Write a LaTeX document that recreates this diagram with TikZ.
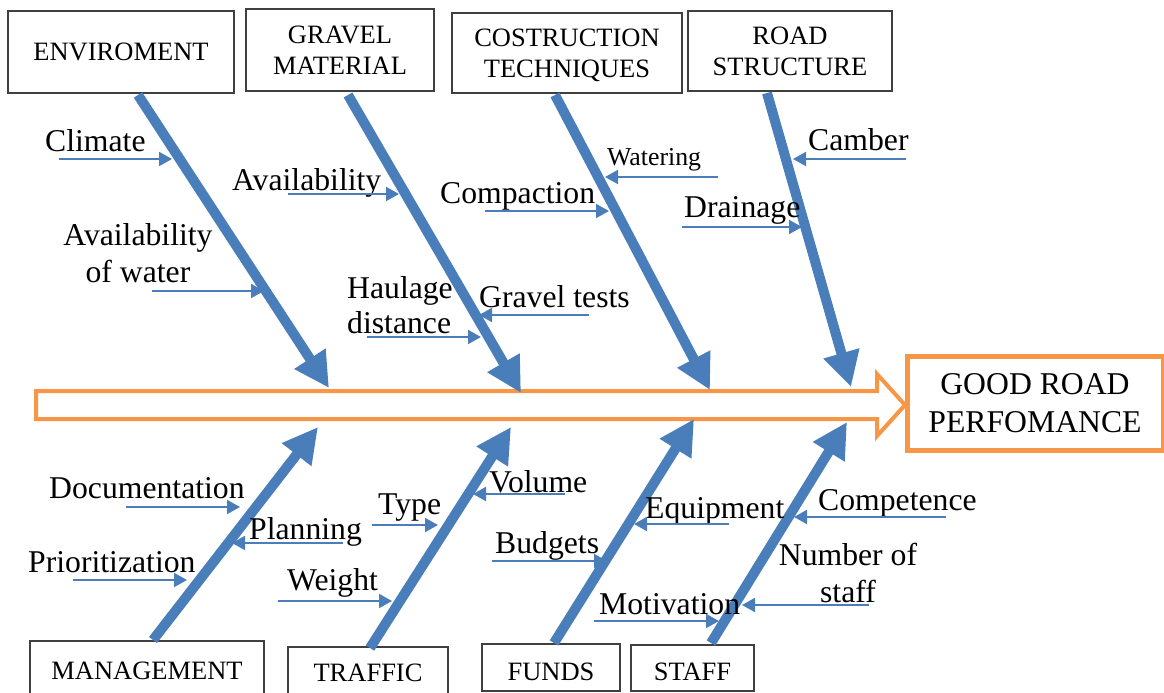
\documentclass[tikz,border=0pt]{standalone}
\usepackage{fontspec}
\setmainfont{Liberation Serif}
\usetikzlibrary{arrows.meta,calc,positioning}
\definecolor{bonecol}{HTML}{4A7EBB}
\definecolor{spinecol}{HTML}{F79646}

\begin{document}
\begin{tikzpicture}[x=1pt,y=-1pt,line join=miter,
  catbox/.style={draw=black!75,line width=1.5pt,inner sep=0pt,align=center,text depth=0pt,font=\fontsize{26.5}{31}\selectfont},
  bone/.style={bonecol,line width=10pt,-{Triangle[length=35pt,width=35pt]}},
  twig/.style={bonecol,line width=2pt,-{Triangle[length=13pt,width=14pt]}},
  lab/.style={inner sep=0pt,anchor=base west,font=\fontsize{31.7}{37}\selectfont}]
\useasboundingbox (0,0) rectangle (1164,693);
% spine and effect
\draw[spinecol,line width=4pt](36,391)--(877,391)--(877,374)--(905,405)--(877,436)--(877,419)--(36,419)--cycle;
\node[draw=spinecol,line width=5pt,minimum width=256pt,minimum height=94pt,inner sep=0pt,align=center,font=\fontsize{31.7}{38}\selectfont] (goal) at (1035,403) {GOOD ROAD\\PERFOMANCE};
% categories
\node[catbox,minimum width=226pt,minimum height=82pt] (env) at (121,52) {ENVIROMENT};
\node[catbox,minimum width=188pt,minimum height=82pt] (grav) at (340,50) {GRAVEL\\MATERIAL};
\node[catbox,minimum width=230pt,minimum height=80pt] (cons) at (567,53) {COSTRUCTION\\TECHNIQUES};
\node[catbox,minimum width=204pt,minimum height=80pt] (road) at (790,51) {ROAD\\STRUCTURE};
\node[catbox,minimum width=234pt,minimum height=59pt] (mgmt) at (147,670.5) {MANAGEMENT};
\node[catbox,minimum width=160pt,minimum height=52pt] (traf) at (368,673) {TRAFFIC};
\node[catbox,minimum width=138pt,minimum height=47pt,text height=26.5pt] (fund) at (551,667.5) {FUNDS};
\node[catbox,minimum width=123pt,minimum height=46pt,text height=24pt] (staf) at (692.5,668) {STAFF};
% bones
\foreach \i/\a/\b in {env/{138,95}/{329,388}, grav/{348,95}/{521,393}, cons/{555,95}/{710,390}, road/{767,93}/{851,387},
  mgmt/{153,640}/{318,427}, traf/{370,648}/{511,427}, fund/{554,643}/{694,419}, staf/{711,643}/{847,422}}{
  \coordinate (\i-0) at (\a);
  \coordinate (\i-1) at (\b);
  \draw[bone](\i-0)--(\i-1);}
% causes
\foreach \n/\t/\p/\a/\b/\y in {clim/Climate/{45,151}/59/172/159, avg/Availability/{232,190}/288/399/194,
  comp/Compaction/{440,203}/485/609/211, drain/Drainage/{684,217}/682/802/227, camb/Camber/{808,150}/906/793/159,
  gtest/Gravel tests/{479,307}/589/479/315, doc/Documentation/{49,498}/126/240/507, plan/Planning/{249,539}/343/232/543,
  prio/Prioritization/{28,572}/73/187/580, type/Type/{378,514}/372/438/525, wgt/Weight/{287,590}/278/392/601,
  vol/Volume/{489,492}/565/473/494, equip/Equipment/{645,518}/729/634/524, budg/Budgets/{495,553}/492/607/561,
  compt/Competence/{818,510}/946/794/517, motiv/Motivation/{599,614}/594/719/621}{
  \node[lab] (\n) at (\p) {\t};
  \coordinate (\n-s) at (\a,\y);
  \coordinate (\n-e) at (\b,\y);
  \draw[twig](\n-s)--(\n-e);}
\node[lab,font=\fontsize{25.8}{30}\selectfont] (wat) at (607,165) {Watering};
\node[lab,anchor=center,align=center] (awat) at (138,252.7) {Availability\\of water};
\node[lab,anchor=center,align=left,font=\fontsize{31.7}{35}\selectfont] (haul) at (400,304.7) {Haulage\\distance};
\node[lab,anchor=center,align=center] (nstf) at (848,572.7) {Number of\\staff};
\coordinate (wat-s) at (718,177);
\coordinate (wat-e) at (605,177);
\coordinate (awat-s) at (152,291);
\coordinate (awat-e) at (264,291);
\coordinate (haul-s) at (367,337);
\coordinate (haul-e) at (481,337);
\coordinate (nstf-s) at (869,605);
\coordinate (nstf-e) at (742,605);
\foreach \n in {wat,awat,haul,nstf}{\draw[twig](\n-s)--(\n-e);}
\end{tikzpicture}
\end{document}
